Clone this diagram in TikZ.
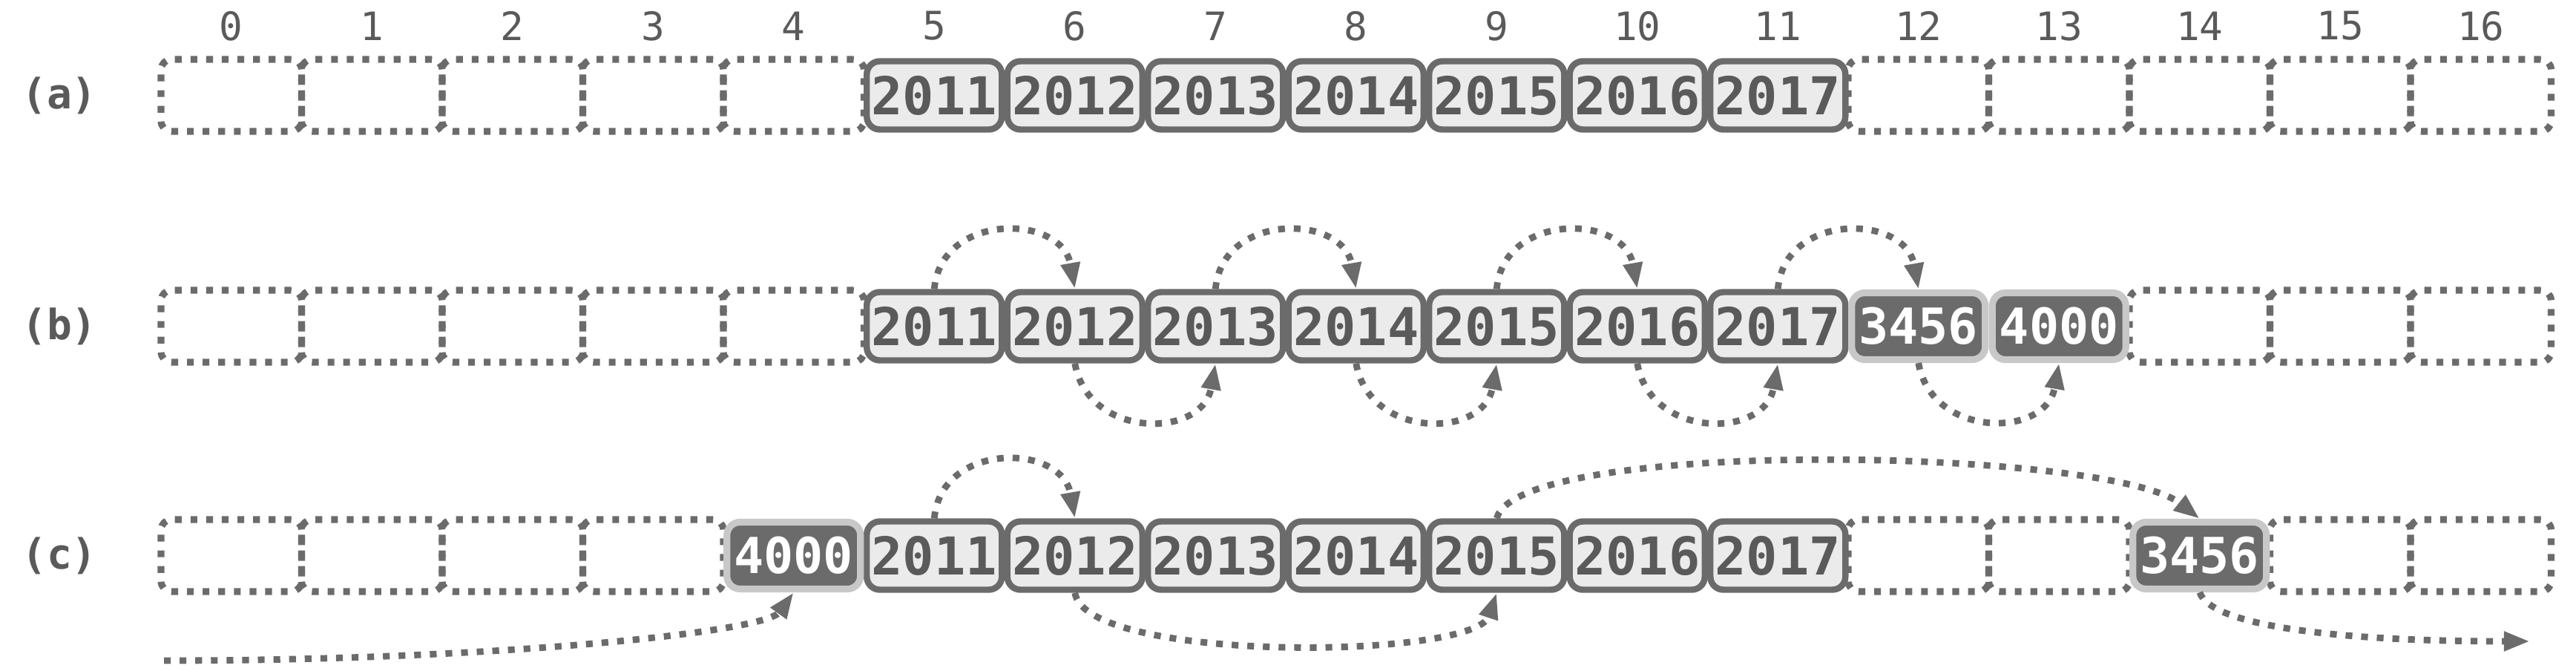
\documentclass[tikz,border=0pt]{standalone}
\usepackage{fontspec}
\newfontfamily\monofont{DejaVu Sans Mono}
\usetikzlibrary{arrows.meta}
\definecolor{lc}{HTML}{6B6B6B}
\definecolor{cellfill}{HTML}{EBEBEB}
\definecolor{txt}{HTML}{5A5A5A}
\definecolor{darkfill}{HTML}{6B6B6B}
\definecolor{darkedge}{HTML}{C8C8C8}
\tikzset{
  emptycell/.style={draw=lc, line width=2.6pt, dash pattern=on 2.6pt off 3.4pt, rounded corners=4pt,
    minimum width=1.895cm, minimum height=0.97cm, inner sep=0pt, outer sep=0pt},
  fullcell/.style={draw=lc, fill=cellfill, line width=2.4pt, rounded corners=5pt,
    minimum width=1.82cm, minimum height=0.92cm, inner sep=0pt,
    font=\monofont\bfseries\fontsize{20}{24}\selectfont, text=txt},
  darkcell/.style={draw=darkedge, fill=darkfill, line width=2.6pt, rounded corners=5pt,
    minimum width=1.80cm, minimum height=0.90cm, inner sep=0pt,
    font=\monofont\bfseries\fontsize{19}{22}\selectfont, text=white},
  idx/.style={font=\monofont\fontsize{15}{18}\selectfont, text=txt},
  rowlab/.style={font=\monofont\bfseries\fontsize{16}{19}\selectfont, text=txt},
  link/.style={draw=lc, line width=2.5pt, dash pattern=on 2.6pt off 3.4pt,
    -{Triangle[length=10pt,width=7pt]}},
}
\begin{document}
\begin{tikzpicture}
\useasboundingbox (0,0) rectangle (34.72,9.03);
% index labels
\foreach \i in {0,...,16}{
  \pgfmathsetmacro\x{2.17+1.895*(\i+0.5)}
  \node[idx] (n\i) at (\x,8.68) {\i};
}
% row labels
\node[rowlab] (la) at (0.80,7.745) {(a)};
\node[rowlab] (lb) at (0.80,4.635) {(b)};
\node[rowlab] (lc) at (0.80,1.545) {(c)};
% row (a)
\foreach \i in {0,1,2,3,4,12,13,14,15,16}{
  \pgfmathsetmacro\x{2.17+1.895*(\i+0.5)}
  \node[emptycell] (a\i) at (\x,7.745) {};
}
\foreach \i/\t in {5/2011,6/2012,7/2013,8/2014,9/2015,10/2016,11/2017}{
  \pgfmathsetmacro\x{2.17+1.895*(\i+0.5)}
  \node[fullcell] (a\i) at (\x,7.745) {\t};
}
% row (b)
\foreach \i in {0,1,2,3,4,14,15,16}{
  \pgfmathsetmacro\x{2.17+1.895*(\i+0.5)}
  \node[emptycell] (b\i) at (\x,4.635) {};
}
\foreach \i/\t in {5/2011,6/2012,7/2013,8/2014,9/2015,10/2016,11/2017}{
  \pgfmathsetmacro\x{2.17+1.895*(\i+0.5)}
  \node[fullcell] (b\i) at (\x,4.635) {\t};
}
\foreach \i/\t in {12/3456,13/4000}{
  \pgfmathsetmacro\x{2.17+1.895*(\i+0.5)}
  \node[darkcell] (b\i) at (\x,4.635) {\t};
}
% row (c)
\foreach \i in {0,1,2,3,12,13,15,16}{
  \pgfmathsetmacro\x{2.17+1.895*(\i+0.5)}
  \node[emptycell] (c\i) at (\x,1.545) {};
}
\foreach \i/\t in {5/2011,6/2012,7/2013,8/2014,9/2015,10/2016,11/2017}{
  \pgfmathsetmacro\x{2.17+1.895*(\i+0.5)}
  \node[fullcell] (c\i) at (\x,1.545) {\t};
}
\foreach \i/\t in {4/4000,14/3456}{
  \pgfmathsetmacro\x{2.17+1.895*(\i+0.5)}
  \node[darkcell] (c\i) at (\x,1.545) {\t};
}
% arrows in (b)
\foreach \p/\q in {5/6,7/8,9/10,11/12}{
  \draw[link] (b\p.north) to[out=85,in=100,looseness=1.4] (b\q.north);
}
\foreach \p/\q in {6/7,8/9,10/11,12/13}{
  \draw[link] (b\p.south) to[out=-80,in=-100,looseness=1.4] (b\q.south);
}
% arrows in (c)
\coordinate (cin) at (2.21,0.13);
\coordinate (cout) at (34.10,0.39);
\draw[link] (c5.north) to[out=85,in=100,looseness=1.4] (c6.north);
\draw[link] (c6.south) .. controls +(0.15,-0.95) and +(-0.3,-0.9) .. (c9.south);
\draw[link] (c9.north) .. controls +(0.3,1.1) and +(-1.2,0.95) .. (c14.north);
\draw[link] (cin) .. controls (6.5,0.13) and (10.3,0.5) .. (c4.south);
\draw[link] (c14.south) .. controls +(0.15,-0.45) and (31.5,0.39) .. (cout);
\end{tikzpicture}
\end{document}
